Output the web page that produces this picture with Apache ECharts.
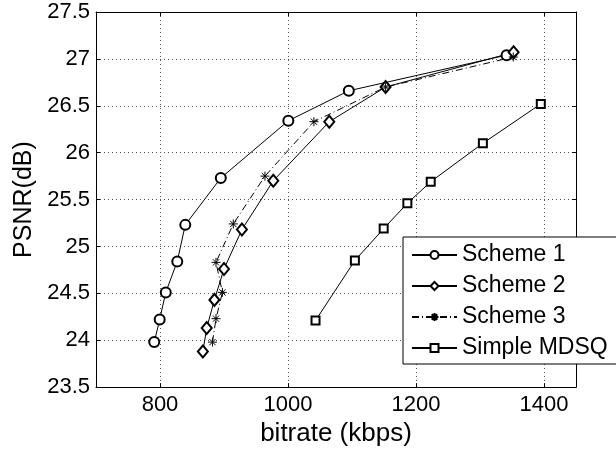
<!DOCTYPE html>
<html>
<head>
    <meta charset="UTF-8">
    <title>PSNR vs bitrate</title>
    <script src="https://cdn.jsdelivr.net/npm/echarts@6/dist/echarts.min.js"></script>
    <style>
        html, body { margin: 0; padding: 0; background: #fff; }
        #chart { width: 616px; height: 452px; }
    </style>
</head>
<body>
<div id="chart"></div>
<script>
    // 数据
    var seriesNames = ['Scheme 1', 'Scheme 2', 'Scheme 3', 'Simple MDSQ'];

    var rate1 = [791, 799.5, 809, 827, 839.5, 895, 1000.5, 1095, 1341.5];
    var psnr1 = [23.98, 24.22, 24.51, 24.84, 25.23, 25.73, 26.34, 26.66, 27.04];

    var rate2 = [867, 873, 885, 900, 928, 977, 1064.5, 1152.5, 1352.5];
    var psnr2 = [23.88, 24.13, 24.43, 24.76, 25.18, 25.70, 26.33, 26.70, 27.07];

    var rate3 = [882, 887.5, 897.5, 887.5, 914.5, 964, 1040.5, 1152.5, 1352];
    var psnr3 = [23.98, 24.23, 24.51, 24.83, 25.24, 25.75, 26.33, 26.70, 27.02];

    var rateM = [1043, 1104.5, 1149.5, 1186.5, 1223, 1304.5, 1395];
    var psnrM = [24.21, 24.85, 25.19, 25.46, 25.69, 26.10, 26.52];

    var xTicks = [800, 1000, 1200, 1400];
    var xMin = 700, xMax = 1450;
    var yMin = 23.5, yMax = 27.5, yStep = 0.5;

    function pairs(xs, ys) {
        var out = [];
        for (var i = 0; i < xs.length; i++) out.push([xs[i], ys[i]]);
        return out;
    }

    var font = 'Liberation Sans, Arial, Helvetica, sans-serif';
    var asterisk = 'path://M0,5L10,5M5,0L5,10M1.5,1.5L8.5,8.5M8.5,1.5L1.5,8.5';

    function lineSeries(name, data, symbol, size, dash) {
        return {
            name: name,
            type: 'line',
            data: data,
            symbol: symbol,
            symbolSize: size,
            symbolKeepAspect: true,
            showSymbol: true,
            xAxisIndex: 0,
            yAxisIndex: 0,
            itemStyle: { color: '#000', borderColor: '#000', borderWidth: 1 },
            lineStyle: { color: '#000', width: 1, type: dash || 'solid' },
            emphasis: { disabled: true }
        };
    }

    var myChart = echarts.init(document.getElementById('chart'), null, { renderer: 'canvas' });

    var option = {
        animation: false,
        backgroundColor: '#fff',
        textStyle: { fontFamily: font, color: '#000' },
        grid: { left: 96, right: 40, top: 12, bottom: 64, containLabel: false },
        legend: {
            orient: 'vertical',
            left: 403,
            top: 237,
            data: seriesNames,
            itemWidth: 45,
            itemHeight: 10,
            itemGap: 7,
            padding: [6, 24, 4, 8],
            backgroundColor: '#fff',
            borderColor: '#000',
            borderWidth: 1,
            borderRadius: 0,
            textStyle: { fontFamily: font, fontSize: 23, color: '#000', lineHeight: 24 }
        },
        xAxis: [{
            type: 'value',
            min: xMin,
            max: xMax,
            position: 'bottom',
            name: 'bitrate (kbps)',
            nameLocation: 'middle',
            nameGap: 31,
            nameTextStyle: { fontFamily: font, fontSize: 26, color: '#000' },
            axisLine: { show: true, onZero: false, lineStyle: { color: '#000', width: 1 } },
            axisTick: { show: true, inside: true, length: 4, customValues: xTicks, lineStyle: { color: '#000' } },
            axisLabel: {
                customValues: xTicks, fontFamily: font, fontSize: 22, color: '#000', margin: 7,
                formatter: function (v) { return String(v); }
            },
            splitLine: { show: true, lineStyle: { color: '#555', width: 1, type: [1, 3] } }
        }, {
            type: 'value',
            min: xMin,
            max: xMax,
            position: 'top',
            axisLine: { show: true, onZero: false, lineStyle: { color: '#000', width: 1 } },
            axisTick: { show: true, inside: true, length: 4, customValues: xTicks, lineStyle: { color: '#000' } },
            axisLabel: { show: false },
            splitLine: { show: false }
        }],
        yAxis: [{
            type: 'value',
            min: yMin,
            max: yMax,
            interval: yStep,
            position: 'left',
            name: 'PSNR(dB)',
            nameLocation: 'middle',
            nameGap: 59,
            nameTextStyle: { fontFamily: font, fontSize: 25, color: '#000' },
            axisLine: { show: true, onZero: false, lineStyle: { color: '#000', width: 1 } },
            axisTick: { show: true, inside: true, length: 4, lineStyle: { color: '#000' } },
            axisLabel: { fontFamily: font, fontSize: 22, color: '#000', margin: 6 },
            splitLine: { show: true, lineStyle: { color: '#555', width: 1, type: [1, 3] } }
        }, {
            type: 'value',
            min: yMin,
            max: yMax,
            interval: yStep,
            position: 'right',
            axisLine: { show: true, onZero: false, lineStyle: { color: '#000', width: 1 } },
            axisTick: { show: true, inside: true, length: 4, lineStyle: { color: '#000' } },
            axisLabel: { show: false },
            splitLine: { show: false }
        }],
        series: [
            lineSeries(seriesNames[0], pairs(rate1, psnr1), 'emptyCircle', 10),
            lineSeries(seriesNames[1], pairs(rate2, psnr2), 'emptyDiamond', [10, 12]),
            lineSeries(seriesNames[2], pairs(rate3, psnr3), asterisk, 9, [7, 3, 1, 3]),
            lineSeries(seriesNames[3], pairs(rateM, psnrM), 'emptyRect', 8)
        ]
    };

    myChart.setOption(option);
</script>
</body>
</html>
